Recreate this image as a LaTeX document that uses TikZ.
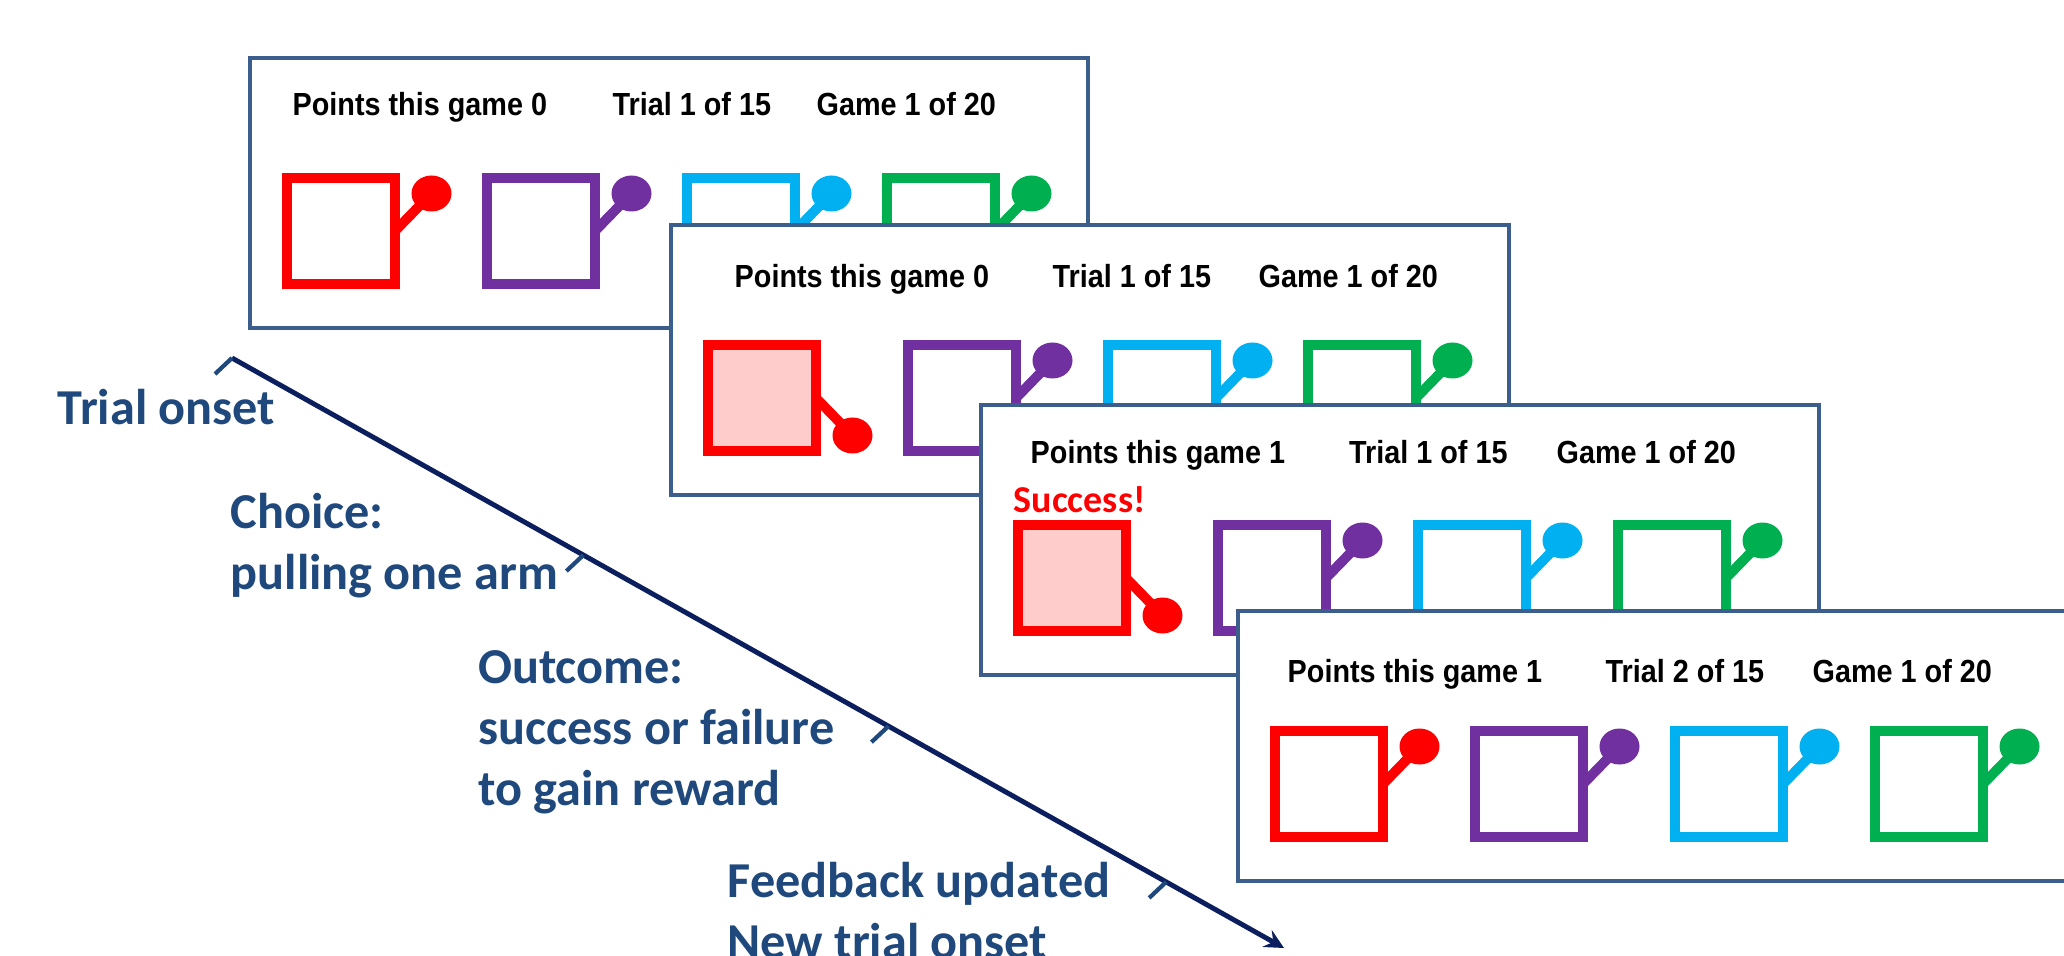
\documentclass[tikz,border=0pt]{standalone}
\usepackage{fontspec}
\setmainfont{Carlito}
\newfontfamily\panelfont[FakeStretch=0.9]{Liberation Sans}
\usetikzlibrary{calc,shapes.geometric}
\definecolor{armred}{HTML}{FF0000}
\definecolor{armpurple}{HTML}{7030A0}
\definecolor{armcyan}{HTML}{00B0F0}
\definecolor{armgreen}{HTML}{00B050}
\definecolor{armpink}{HTML}{FFCCCC}
\definecolor{screenblue}{HTML}{3B5E8C}
\definecolor{labelblue}{HTML}{1F497D}
\definecolor{linenavy}{HTML}{0B1F5E}
\tikzset{
  screen/.style={draw=screenblue,line width=1.15pt,fill=white,anchor=north west,
    minimum width=8.38cm,minimum height=2.70cm,inner sep=0,outer sep=0},
  armcard/.style={line width=3.1pt,minimum width=1.08cm,minimum height=1.06cm,inner sep=0,outer sep=0},
  armknob/.style={ellipse,minimum width=0.40cm,minimum height=0.36cm,inner sep=0},
  armstick/.style={line width=2.8pt},
  scoretext/.style={font={\panelfont\bfseries\fontsize{9.1}{11}\selectfont},anchor=base west,inner sep=0},
  phase/.style={font={\bfseries\fontsize{14.3}{17.3}\selectfont},text=labelblue,align=left,
    anchor=base west,inner sep=0},
  tick/.style={draw=labelblue,line width=1.2pt},
  timeline/.style={draw=linenavy,line width=1.4pt}
}
% one arm of the bandit: card, knob and stick (#4 = knob height, negative when pulled)
\newcommand\slotarm[5]{%
  \node[armcard,draw=#3,fill=#5] (#1) at ({0.91+2*#2},-1.73) {};
  \node[armknob,fill=#3] (#1k) at ([shift={(0.905,#4)}]#1.center) {};
  \draw[armstick,#3] (#1.east) -- (#1k.center);
}
\begin{document}
\begin{tikzpicture}[>=stealth]
\useasboundingbox (0,0) rectangle (20.64,-9.56);

\begin{scope}[shift={(2.50,-0.58)}]
\node[screen] (p1) at (0,0) {};
\node[scoretext] (p1pts) at (0.42,-0.58) {Points this game 0};
\node[scoretext] (p1trial) at (3.62,-0.58) {Trial 1 of 15};
\node[scoretext] (p1game) at (5.66,-0.58) {Game 1 of 20};
\foreach \n/\col [count=\i from 0] in {r/armred,p/armpurple,c/armcyan,g/armgreen}
  \slotarm{p1\n}{\i}{\col}{0.375}{white};
\end{scope}

\begin{scope}[shift={(6.71,-2.25)}]
\node[screen] (p2) at (0,0) {};
\node[scoretext] (p2pts) at (0.63,-0.63) {Points this game 0};
\node[scoretext] (p2trial) at (3.81,-0.63) {Trial 1 of 15};
\node[scoretext] (p2game) at (5.87,-0.63) {Game 1 of 20};
\slotarm{p2r}{0}{armred}{-0.375}{armpink}
\foreach \n/\col [count=\i from 1] in {p/armpurple,c/armcyan,g/armgreen}
  \slotarm{p2\n}{\i}{\col}{0.375}{white};
\end{scope}

\begin{scope}[shift={(9.81,-4.05)}]
\node[screen] (p3) at (0,0) {};
\node[scoretext] (p3pts) at (0.49,-0.58) {Points this game 1};
\node[scoretext] (p3trial) at (3.675,-0.58) {Trial 1 of 15};
\node[scoretext] (p3game) at (5.75,-0.58) {Game 1 of 20};
\node[font={\bfseries\fontsize{10.8}{13}\selectfont},text=armred,anchor=base west,inner sep=0] (p3win) at (0.32,-1.07) {Success!};
\slotarm{p3r}{0}{armred}{-0.375}{armpink}
\foreach \n/\col [count=\i from 1] in {p/armpurple,c/armcyan,g/armgreen}
  \slotarm{p3\n}{\i}{\col}{0.375}{white};
\end{scope}

\begin{scope}[shift={(12.38,-6.11)}]
\node[screen] (p4) at (0,0) {};
\node[scoretext] (p4pts) at (0.49,-0.71) {Points this game 1};
\node[scoretext] (p4trial) at (3.67,-0.71) {Trial 2 of 15};
\node[scoretext] (p4game) at (5.74,-0.71) {Game 1 of 20};
\foreach \n/\col [count=\i from 0] in {r/armred,p/armpurple,c/armcyan,g/armgreen}
  \slotarm{p4\n}{\i}{\col}{0.375}{white};
\end{scope}

\coordinate (t0) at (2.32,-3.58);
\coordinate (t1) at (12.84,-9.48);
\draw[timeline,->] (t0) -- (t1);
\foreach \t in {0,0.334,0.624,0.888}
  \draw[tick] ($(t0)!\t!(t1)$) -- ++(-0.17,-0.16);

% base anchor of a multi-line node sits on its last line
\node[phase] (onset) at (0.57,-4.25) {Trial onset};
\node[phase] (choice) at (2.30,-5.89) {Choice:\\pulling one arm};
\node[phase] (outcome) at (4.775,-8.05) {Outcome:\\success or failure\\to gain reward};
\node[phase] (feedback) at (7.27,-9.58) {Feedback updated\\New trial onset};
\end{tikzpicture}
\end{document}
